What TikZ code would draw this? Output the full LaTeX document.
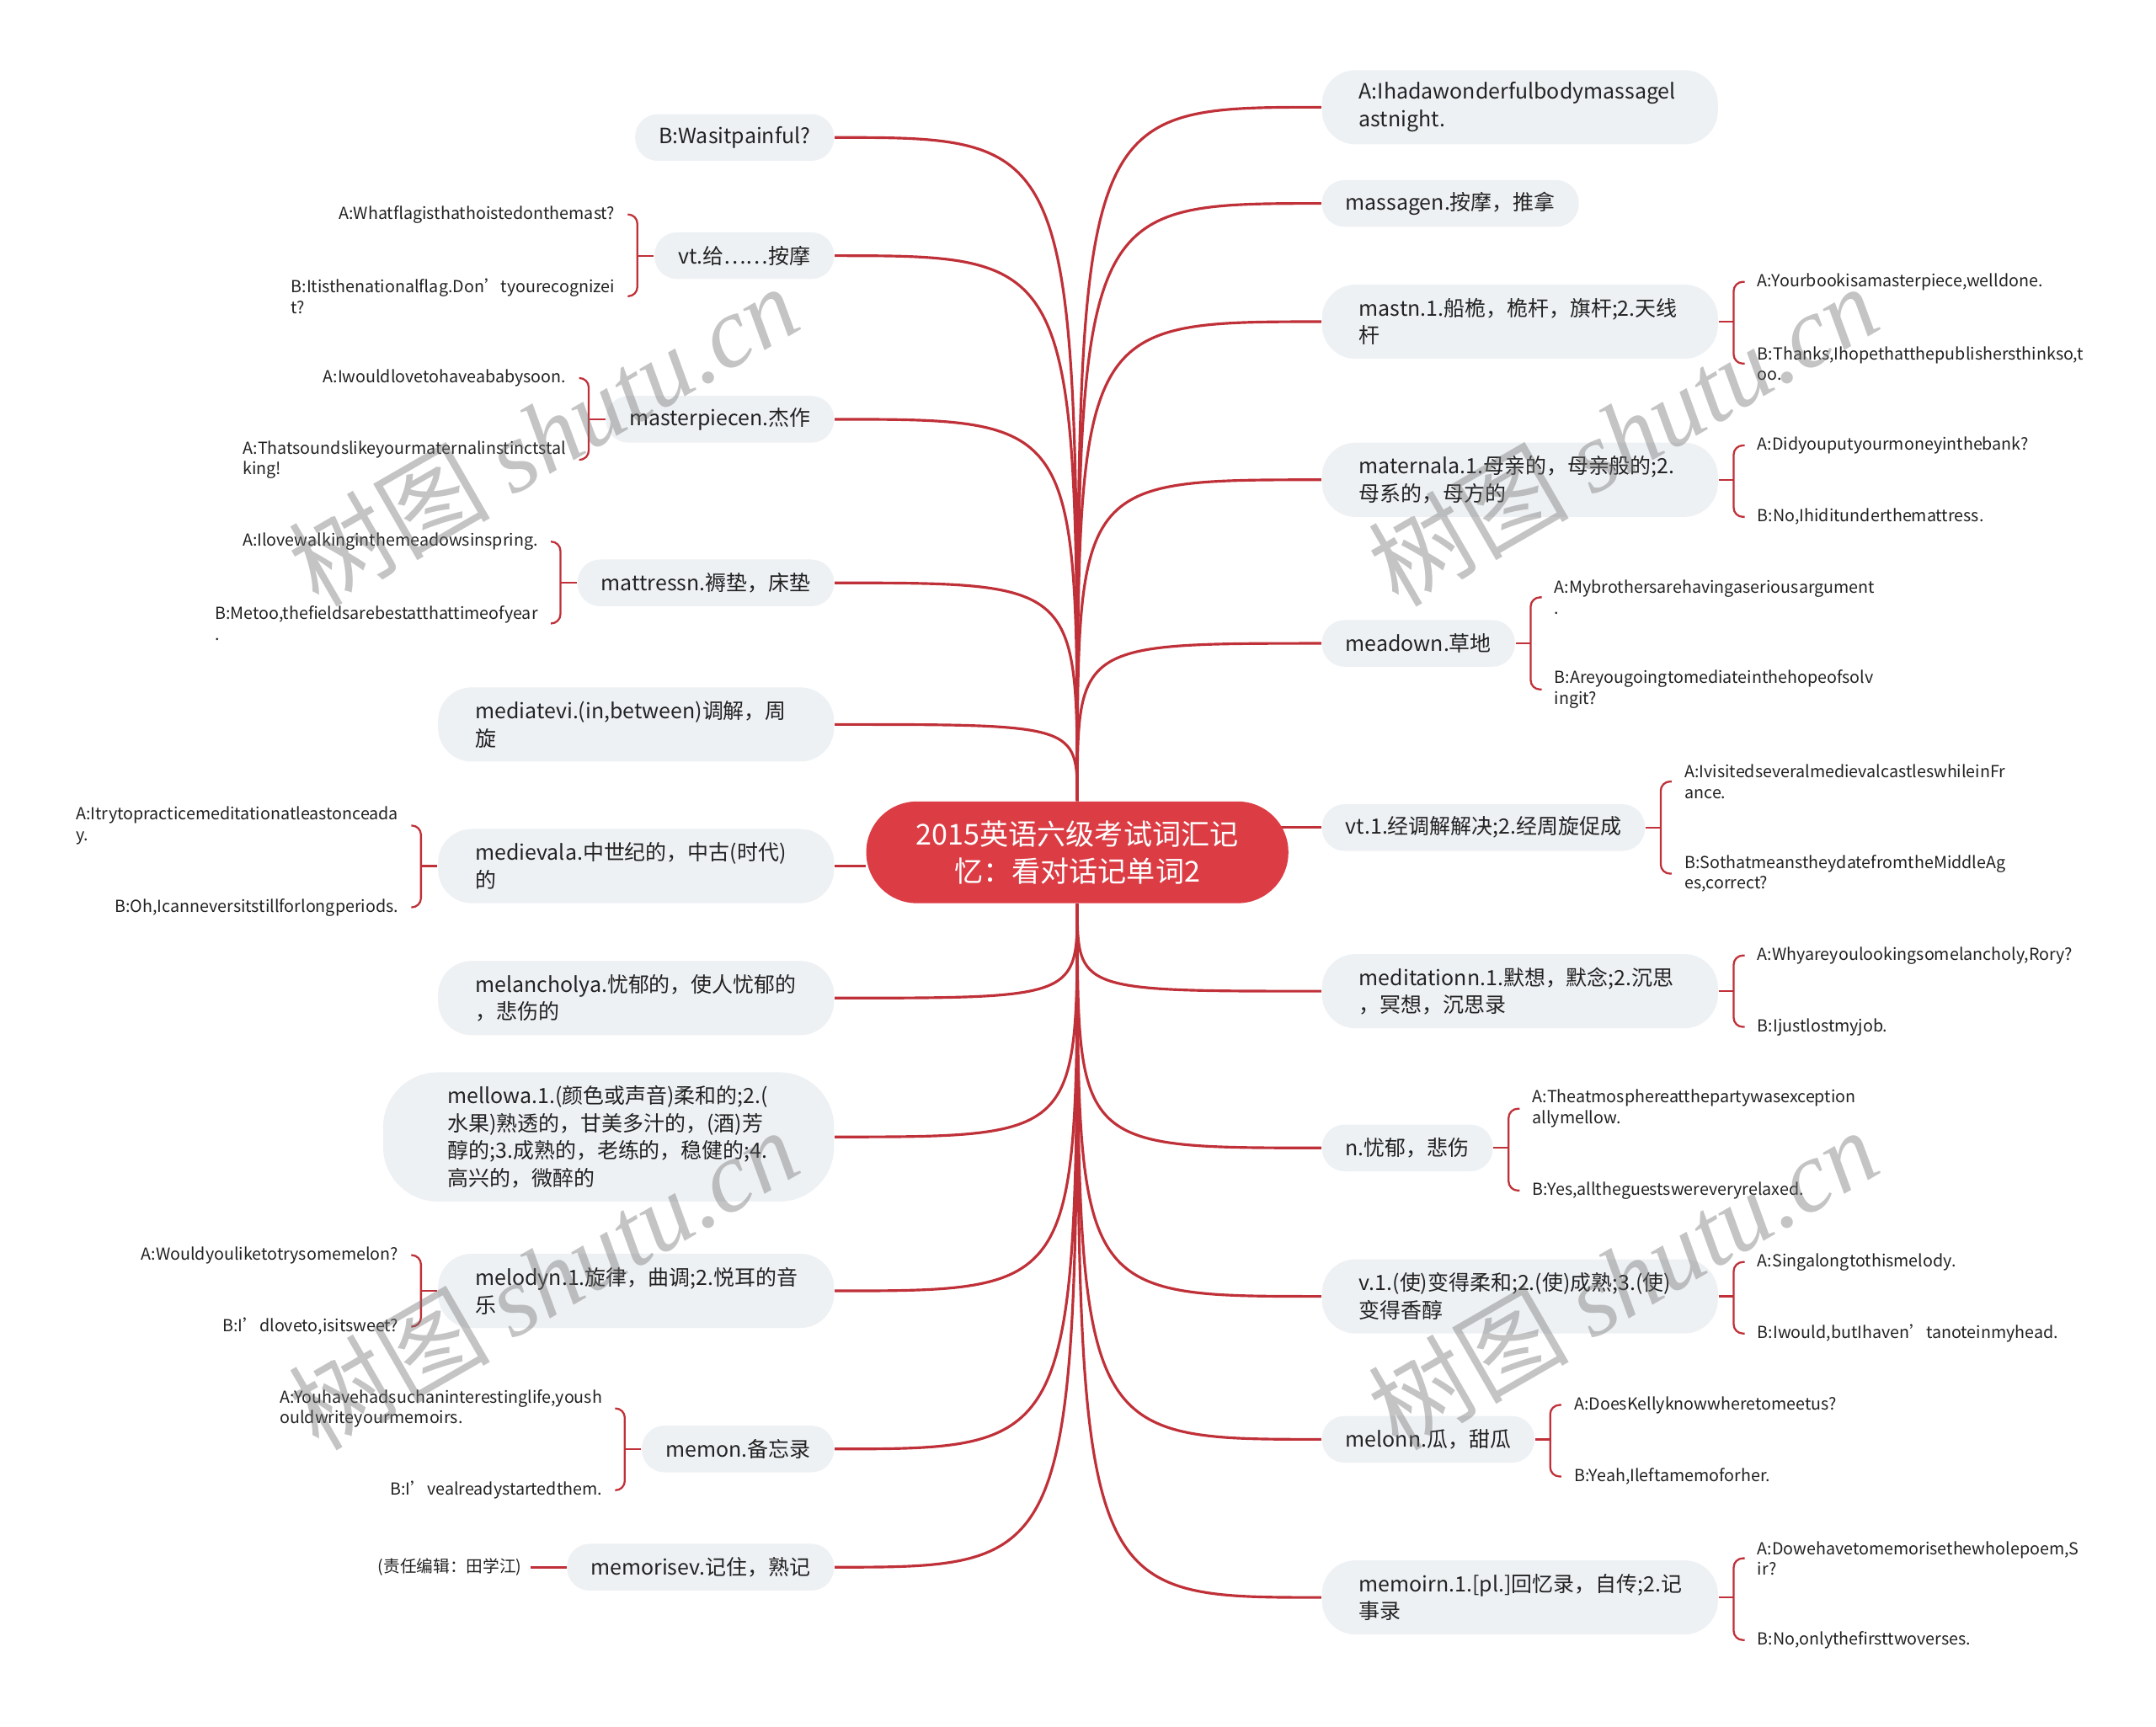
\documentclass[tikz,border=0pt]{standalone}
\usepackage{fontspec}
\setmainfont{Noto Sans CJK SC}
\newfontfamily\wmlatin{Liberation Serif}
\usetikzlibrary{calc,backgrounds}
\definecolor{boxbg}{RGB}{238,241,244}
\definecolor{linec}{RGB}{192,48,56}
\definecolor{rootc}{RGB}{220,61,69}
\definecolor{txt}{RGB}{34,34,34}
\newcommand\mainf{\fontsize{7.1}{9.3}\selectfont}
\newcommand\smallf{\fontsize{5.6}{7}\selectfont}
\newcommand\titlef{\fontsize{9.7}{12.5}\selectfont}
% brackets
\newcommand\brL[3]{%
  \draw[br] (#1.west) -- ++(-12,0);
  \draw[br,rounded corners=0.11cm] ($(#2.east)+(9,0)$) -| ($(#1.west)+(-12,0)$) |- ($(#3.east)+(9,0)$);}
\newcommand\brR[3]{%
  \draw[br] (#1.east) -- ++(11,0);
  \draw[br,rounded corners=0.11cm] ($(#2.west)+(-9,0)$) -| ($(#1.east)+(11,0)$) |- ($(#3.west)+(-9,0)$);}
\newcommand\upL[1]{\draw[conn] (#1.east) .. controls (root.north |- #1.east) .. (root.north);}
\newcommand\dnL[1]{\draw[conn] (#1.east) .. controls (root.south |- #1.east) .. (root.south);}
\newcommand\upR[1]{\draw[conn] (#1.west) .. controls (root.north |- #1.west) .. (root.north);}
\newcommand\dnR[1]{\draw[conn] (#1.west) .. controls (root.south |- #1.west) .. (root.south);}
\begin{document}
\begin{tikzpicture}[x=0.0163265cm,y=-0.0163265cm,
  every node/.style={text=txt},
  rootbox/.style={fill=rootc, text=white, rounded corners=0.6cm, minimum width=5.012cm, minimum height=1.208cm, inner sep=0pt, align=center, font=\titlef},
  sbox/.style={fill=boxbg, rounded corners=0.27cm, minimum height=0.555cm, inner xsep=0.28cm, inner ysep=0pt, font=\mainf},
  mbox/.style={fill=boxbg, rounded corners=0.4cm, minimum height=0.8816cm, inner xsep=0.4408cm, inner ysep=0pt, text width=3.82cm, align=left, font=\mainf},
  kidL/.style={anchor=east, inner sep=0pt, align=left, font=\smallf},
  kidR/.style={anchor=west, inner sep=0pt, align=left, font=\smallf},
  conn/.style={draw=linec, line width=0.9pt},
  br/.style={draw=linec, line width=0.65pt},
  wm/.style={rotate=30, text=black!55, text opacity=0.42, font=\fontsize{34}{34}\selectfont, inner sep=0pt}
]
\useasboundingbox (0,0) rectangle (1568,1256.2);

% root
\node[rootbox] (root) at (783.5,620) {2015英语六级考试词汇记\\忆：看对话记单词2};

% left main nodes
\node[sbox,anchor=east] (L1) at (607,100) {B:Wasitpainful?};
\node[sbox,anchor=east] (L2) at (607,186) {vt.给……按摩};
\node[sbox,anchor=east] (L3) at (607,305) {masterpiecen.杰作};
\node[sbox,anchor=east] (L4) at (607,424) {mattressn.褥垫，床垫};
\node[mbox,anchor=east] (L5) at (607,527) {mediatevi.(in,between)调解，周\\旋};
\node[mbox,anchor=east] (L6) at (607,630) {medievala.中世纪的，中古(时代)\\的};
\node[mbox,anchor=east] (L7) at (607,726) {melancholya.忧郁的，使人忧郁的\\，悲伤的};
\node[mbox,anchor=east,minimum height=1.535cm,rounded corners=0.65cm,inner xsep=0.767cm] (L8) at (607,827) {mellowa.1.(颜色或声音)柔和的;2.(\\水果)熟透的，甘美多汁的，(酒)芳\\醇的;3.成熟的，老练的，稳健的;4.\\高兴的，微醉的};
\node[mbox,anchor=east] (L9) at (607,939) {melodyn.1.旋律，曲调;2.悦耳的音\\乐};
\node[sbox,anchor=east] (L10) at (607,1054) {memon.备忘录};
\node[sbox,anchor=east] (L11) at (607,1140) {memorisev.记住，熟记};

% right main nodes
\node[mbox,anchor=west] (R1) at (961,78) {A:Ihadawonderfulbodymassagel\\astnight.};
\node[sbox,anchor=west] (R2) at (961,148) {massagen.按摩，推拿};
\node[mbox,anchor=west] (R3) at (961,234) {mastn.1.船桅，桅杆，旗杆;2.天线\\杆};
\node[mbox,anchor=west] (R4) at (961,349) {maternala.1.母亲的，母亲般的;2.\\母系的，母方的};
\node[sbox,anchor=west] (R5) at (961,468) {meadown.草地};
\node[sbox,anchor=west] (R6) at (961,602) {vt.1.经调解解决;2.经周旋促成};
\node[mbox,anchor=west] (R7) at (961,721) {meditationn.1.默想，默念;2.沉思\\，冥想，沉思录};
\node[sbox,anchor=west] (R8) at (961,835) {n.忧郁，悲伤};
\node[mbox,anchor=west] (R9) at (961,943) {v.1.(使)变得柔和;2.(使)成熟;3.(使)\\变得香醇};
\node[sbox,anchor=west] (R10) at (961,1047) {melonn.瓜，甜瓜};
\node[mbox,anchor=west] (R11) at (961,1162) {memoirn.1.[pl.]回忆录，自传;2.记\\事录};

% left children
\node[kidL] (L2a) at ($(L2.west)+(-28,-30)$) {A:Whatflagisthathoistedonthemast?};
\node[kidL] (L2b) at ($(L2.west)+(-28,29.5)$) {B:Itisthenationalflag.Don’tyourecognizei\\t?};
\node[kidL] (L3a) at ($(L3.west)+(-28,-30)$) {A:Iwouldlovetohaveababysoon.};
\node[kidL] (L3b) at ($(L3.west)+(-28,29.5)$) {A:Thatsoundslikeyourmaternalinstinctstal\\king!};
\node[kidL] (L4a) at ($(L4.west)+(-28,-30)$) {A:Ilovewalkinginthemeadowsinspring.};
\node[kidL] (L4b) at ($(L4.west)+(-28,29.5)$) {B:Metoo,thefieldsarebestatthattimeofyear\\.};
\node[kidL] (L6a) at ($(L6.west)+(-28,-29.5)$) {A:Itrytopracticemeditationatleastonceada\\y.};
\node[kidL] (L6b) at ($(L6.west)+(-28,30)$) {B:Oh,Icanneversitstillforlongperiods.};
\node[kidL] (L9a) at ($(L9.west)+(-28,-26)$) {A:Wouldyouliketotrysomemelon?};
\node[kidL] (L9b) at ($(L9.west)+(-28,26)$) {B:I’dloveto,isitsweet?};
\node[kidL] (L10a) at ($(L10.west)+(-28,-29.5)$) {A:Youhavehadsuchaninterestinglife,yoush\\ouldwriteyourmemoirs.};
\node[kidL] (L10b) at ($(L10.west)+(-28,30)$) {B:I’vealreadystartedthem.};
\node[kidL] (L11a) at ($(L11.west)+(-32,0)$) {(责任编辑：田学江)};

% right children
\node[kidR] (R3a) at ($(R3.east)+(28,-29)$) {A:Yourbookisamasterpiece,welldone.};
\node[kidR] (R3b) at ($(R3.east)+(28,30.5)$) {B:Thanks,Ihopethatthepublishersthinkso,t\\oo.};
\node[kidR] (R4a) at ($(R4.east)+(28,-25)$) {A:Didyouputyourmoneyinthebank?};
\node[kidR] (R4b) at ($(R4.east)+(28,27)$) {B:No,Ihiditunderthemattress.};
\node[kidR] (R5a) at ($(R5.east)+(28,-33.5)$) {A:Mybrothersarehavingaseriousargument\\.};
\node[kidR] (R5b) at ($(R5.east)+(28,33.5)$) {B:Areyougoingtomediateinthehopeofsolv\\ingit?};
\node[kidR] (R6a) at ($(R6.east)+(28,-33.5)$) {A:IvisitedseveralmedievalcastleswhileinFr\\ance.};
\node[kidR] (R6b) at ($(R6.east)+(28,33.5)$) {B:SothatmeanstheydatefromtheMiddleAg\\es,correct?};
\node[kidR] (R7a) at ($(R7.east)+(28,-26)$) {A:Whyareyoulookingsomelancholy,Rory?};
\node[kidR] (R7b) at ($(R7.east)+(28,26)$) {B:Ijustlostmyjob.};
\node[kidR] (R8a) at ($(R8.east)+(28,-28.5)$) {A:Theatmosphereatthepartywasexception\\allymellow.};
\node[kidR] (R8b) at ($(R8.east)+(28,31)$) {B:Yes,alltheguestswereveryrelaxed.};
\node[kidR] (R9a) at ($(R9.east)+(28,-25)$) {A:Singalongtothismelody.};
\node[kidR] (R9b) at ($(R9.east)+(28,27)$) {B:Iwould,butIhaven’tanoteinmyhead.};
\node[kidR] (R10a) at ($(R10.east)+(28,-25)$) {A:DoesKellyknowwheretomeetus?};
\node[kidR] (R10b) at ($(R10.east)+(28,27)$) {B:Yeah,Ileftamemoforher.};
\node[kidR] (R11a) at ($(R11.east)+(28,-28.5)$) {A:Dowehavetomemorisethewholepoem,S\\ir?};
\node[kidR] (R11b) at ($(R11.east)+(28,31)$) {B:No,onlythefirsttwoverses.};

\begin{scope}[on background layer]
  \fill[white] (0,0) rectangle (1568,1256.2);
  % connectors from root
  \upL{L1}\upL{L2}\upL{L3}\upL{L4}\upL{L5}
  \draw[conn] (L6.east) -- (L6.east -| root.west);
  \dnL{L7}\dnL{L8}\dnL{L9}\dnL{L10}\dnL{L11}
  \upR{R1}\upR{R2}\upR{R3}\upR{R4}\upR{R5}
  \draw[conn] (R6.west) -- ($(R6.west -| root.east)+(-8,0)$);
  \dnR{R7}\dnR{R8}\dnR{R9}\dnR{R10}\dnR{R11}
  % brackets
  \brL{L2}{L2a}{L2b}
  \brL{L3}{L3a}{L3b}
  \brL{L4}{L4a}{L4b}
  \brL{L6}{L6a}{L6b}
  \brL{L9}{L9a}{L9b}
  \brL{L10}{L10a}{L10b}
  \draw[conn] (L11.west) -- ($(L11a.east)+(6,0)$);
  \brR{R3}{R3a}{R3b}
  \brR{R4}{R4a}{R4b}
  \brR{R5}{R5a}{R5b}
  \brR{R6}{R6a}{R6b}
  \brR{R7}{R7a}{R7b}
  \brR{R8}{R8a}{R8b}
  \brR{R9}{R9a}{R9b}
  \brR{R10}{R10a}{R10b}
  \brR{R11}{R11a}{R11b}
\end{scope}

% watermarks
\node[wm] (w1) at (395,316) {树图 {\wmlatin\itshape shutu.cn}};
\node[wm] (w2) at (1180,316) {树图 {\wmlatin\itshape shutu.cn}};
\node[wm] (w3) at (395,930) {树图 {\wmlatin\itshape shutu.cn}};
\node[wm] (w4) at (1180,930) {树图 {\wmlatin\itshape shutu.cn}};
\end{tikzpicture}
\end{document}
